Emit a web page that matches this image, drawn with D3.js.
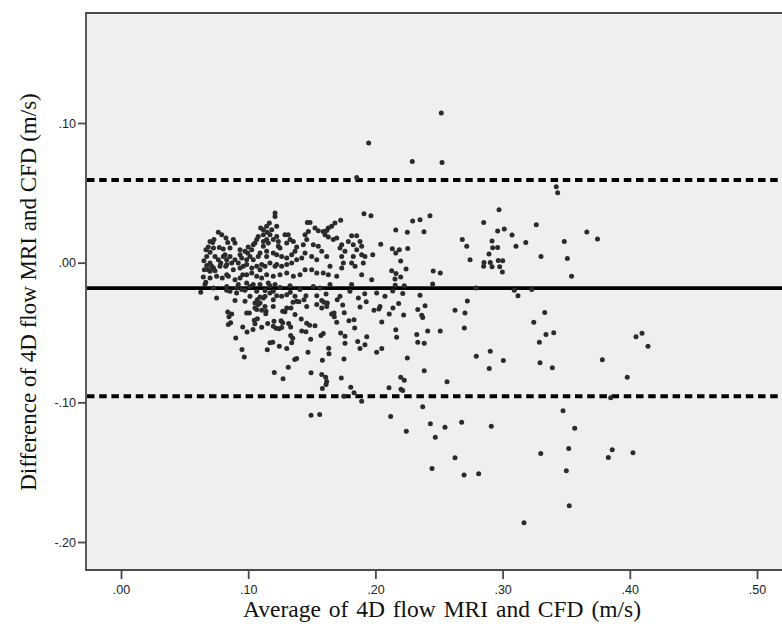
<!DOCTYPE html>
<html>
<head>
<meta charset="utf-8">
<script src="https://cdn.jsdelivr.net/npm/d3@7"></script>
<style>
  html, body { margin: 0; padding: 0; background: #ffffff; }
  svg { display: block; }
</style>
</head>
<body>
<svg id="chart" width="782" height="631"></svg>
<script>
// Bland–Altman agreement: 4D flow MRI vs CFD velocities (m/s)
// Each pair is [average of the two methods, difference between them]
const measurements = [
  [0.1947,0.0856],[0.2518,0.1071],[0.2290,0.0725],[0.2524,0.0717],[0.1853,0.0610],[0.3422,0.0544],[0.3433,0.0501],
  [0.2972,0.0379],[0.2851,0.0288],[0.2961,0.0227],[0.3013,0.0241],[0.3265,0.0272],[0.3074,0.0198],[0.3105,0.0117],[0.3182,0.0145],
  [0.2917,0.0155],[0.2922,0.0107],[0.2961,0.0109],[0.2893,0.0062],[0.2854,0.0002],[0.2851,-0.0026],[0.2903,0.0002],[0.2917,-0.0029],
  [0.2966,0.0016],[0.3001,0.0014],[0.2977,-0.0029],[0.2998,-0.0067],[0.2683,0.0165],[0.2718,0.0117],[0.2744,0.0021],[0.3302,0.0045],
  [0.3485,0.0152],[0.3509,0.0029],[0.3542,-0.0097],[0.3662,0.0220],[0.3746,0.0170],[0.2293,0.0298],[0.2351,0.0308],[0.2429,0.0336],
  [0.2160,0.0234],[0.2251,0.0217],[0.2382,0.0222],[0.2042,0.0131],[0.2133,0.0100],[0.2160,0.0069],[0.2188,0.0093],[0.2254,0.0102],
  [0.2199,0.0012],[0.2241,-0.0045],[0.2128,-0.0057],[0.2162,-0.0077],[0.2154,-0.0117],[0.2199,-0.0102],[0.2455,-0.0059],[0.2510,-0.0074],
  [0.2156,-0.0162],[0.2227,-0.0165],[0.2450,-0.0152],[0.2136,-0.0202],[0.2215,-0.0220],[0.2351,-0.0234],[0.3092,-0.0198],[0.3121,-0.0236],
  [0.2793,-0.0181],[0.3229,-0.0193],[0.2183,-0.0293],[0.2138,-0.0324],[0.2390,-0.0308],[0.2333,-0.0336],[0.2222,-0.0374],[0.2109,-0.0367],
  [0.2364,-0.0377],[0.2372,-0.0393],[0.2626,-0.0341],[0.2704,-0.0360],[0.2723,-0.0274],[0.2050,-0.0424],[0.3331,-0.0356],[0.3245,-0.0427],
  [0.2160,-0.0481],[0.2699,-0.0467],
  [0.2167,-0.0534],[0.2325,-0.0515],[0.2411,-0.0489],[0.2510,-0.0489],[0.2050,-0.0615],[0.2333,-0.0570],[0.2384,-0.0577],[0.2251,-0.0682],
  [0.2384,-0.0773],[0.2199,-0.0820],[0.2227,-0.0842],[0.2563,-0.0853],[0.2107,-0.0896],[0.2201,-0.0906],[0.2215,-0.0916],[0.2793,-0.0670],
  [0.2903,-0.0634],[0.2895,-0.0758],[0.3006,-0.0701],[0.3289,-0.0570],[0.3341,-0.0515],[0.3402,-0.0501],[0.3294,-0.0717],[0.3391,-0.0753],
  [0.3784,-0.0696],[0.4049,-0.0531],[0.4096,-0.0506],[0.4143,-0.0599],[0.3980,-0.0820],[0.3850,-0.0968],[0.2372,-0.1032],[0.2120,-0.1102],
  [0.2243,-0.1207],[0.2432,-0.1154],[0.2471,-0.1250],[0.2547,-0.1178],[0.2678,-0.1142],[0.2911,-0.1171],[0.2626,-0.1397],[0.2445,-0.1474],
  [0.2697,-0.1521],[0.2812,-0.1511],[0.3475,-0.1061],[0.3567,-0.1185],[0.3520,-0.1330],[0.3300,-0.1366],[0.3501,-0.1490],[0.3524,-0.1740],
  [0.3168,-0.1862],[0.3831,-0.1395],[0.3862,-0.1340],[0.4025,-0.1361],
  [0.0627,-0.0212],[0.0752,-0.0253],[0.0896,-0.0270],[0.0839,-0.0353],[0.0870,-0.0367],[0.0988,-0.0360],[0.1009,-0.0360],[0.0849,-0.0388],
  [0.0862,-0.0431],[0.0844,-0.0443],[0.0957,-0.0460],[0.0991,-0.0496],[0.0902,-0.0539],[0.1038,-0.0479],[0.1048,-0.0413],[0.1072,-0.0401],
  [0.1106,-0.0463],[0.1140,-0.0348],[0.1138,-0.0365],[0.1153,-0.0436],[0.1197,-0.0313],[0.1053,-0.0288],[0.1072,-0.0265],[0.1093,-0.0245],
  [0.1132,-0.0241],[0.1171,-0.0217],[0.1224,-0.0236],[0.1271,-0.0348],[0.1289,-0.0351],[0.1258,-0.0415],[0.1203,-0.0420],[0.1271,-0.0431],
  [0.1219,-0.0470],[0.1242,-0.0474],[0.1263,-0.0465],[0.1318,-0.0436],[0.1334,-0.0460],[0.1303,-0.0229],[0.1331,-0.0212],[0.1352,-0.0284],
  [0.1336,-0.0324],[0.1381,-0.0277],[0.1399,-0.0279],[0.1439,-0.0265],[0.1454,-0.0236],[0.1539,-0.0236],[0.1612,-0.0224],[0.1578,-0.0270],
  [0.1596,-0.0284],[0.1622,-0.0288],[0.1700,-0.0265],[0.1743,-0.0303],[0.1675,-0.0360],[0.1656,-0.0367],[0.1677,-0.0388],[0.1755,-0.0358],
  [0.1866,-0.0253],[0.1916,-0.0222],[0.1928,-0.0279],[0.1879,-0.0317],[0.1989,-0.0341],[0.2028,-0.0331],[0.1792,-0.0415],[0.1832,-0.0408],
  [0.1837,-0.0467],[0.1417,-0.0403],[0.1460,-0.0434],[0.1483,-0.0448],[0.1525,-0.0451],[0.1421,-0.0489],[0.1454,-0.0494],[0.1491,-0.0549],
  [0.1590,-0.0508],[0.1572,-0.0522],[0.1727,-0.0503],[0.1761,-0.0577],[0.1761,-0.0527],[0.1696,-0.0427],[0.1334,-0.0522],[0.1350,-0.0541],
  [0.1342,-0.0574],[0.1303,-0.0615],[0.1245,-0.0599],[0.1171,-0.0574],[0.1193,-0.0570],[0.1150,-0.0624],[0.1053,-0.0438],[0.0951,-0.0622],
  [0.0969,-0.0675],[0.1366,-0.0694],[0.1381,-0.0687],[0.1315,-0.0749],[0.1205,-0.0787],[0.1274,-0.0832],[0.1470,-0.0642],[0.1583,-0.0699],
  [0.1633,-0.0613],[0.1635,-0.0653],[0.1753,-0.0689],[0.1861,-0.0565],[0.1879,-0.0615],[0.1932,-0.0531],[0.1918,-0.0587],[0.2010,-0.0642],
  [0.1578,-0.0801],[0.1609,-0.0820],[0.1617,-0.0851],[0.1612,-0.0873],[0.1583,-0.0901],[0.1494,-0.0789],[0.1732,-0.0825],[0.1806,-0.0892],
  [0.1832,-0.0932],[0.1892,-0.0992],[0.1751,-0.0956],[0.1494,-0.1092],[0.1562,-0.1087],
  [0.0660,-0.0157],[0.1053,-0.0324],[0.1079,-0.0300],[0.1119,-0.0253],[0.1197,-0.0456],[0.1067,-0.0205],
  [0.0666,-0.0141],[0.0647,-0.0102],[0.0655,-0.0050],[0.0674,-0.0021],[0.0652,0.0014],[0.0674,0.0045],[0.0668,0.0093],[0.0686,0.0112],
  [0.0700,0.0074],[0.0721,0.0145],[0.0731,0.0165],[0.0765,0.0217],[0.0792,0.0200],[0.0773,0.0109],[0.0804,0.0098],[0.0825,0.0177],
  [0.0839,0.0145],[0.0857,0.0105],[0.0883,0.0165],[0.0896,0.0141],[0.0739,0.0045],[0.0765,0.0021],[0.0784,-0.0002],[0.0804,0.0045],
  [0.0831,0.0021],[0.0823,-0.0026],[0.0870,-0.0002],[0.0713,-0.0026],[0.0700,-0.0062],[0.0739,-0.0057],[0.0752,-0.0098],[0.0796,-0.0109],
  [0.0844,-0.0098],[0.0883,-0.0050],[0.0896,-0.0122],[0.0936,0.0057],[0.0949,0.0034],[0.0922,-0.0002],[0.0962,-0.0026],[0.0957,-0.0086],
  [0.0988,0.0021],[0.0996,0.0069],[0.1028,0.0093],[0.1040,0.0021],[0.1053,0.0141],[0.1079,0.0188],[0.1098,0.0248],[0.1119,0.0200],
  [0.1145,0.0260],[0.1166,0.0284],[0.1185,0.0236],[0.1211,0.0356],[0.1211,0.0331],[0.1224,0.0260],[0.1197,0.0165],[0.1158,0.0141],
  [0.1119,0.0117],[0.1093,0.0069],[0.1145,0.0045],[0.1197,0.0069],[0.1237,0.0117],[0.1067,-0.0026],[0.1093,-0.0050],[0.1132,-0.0026],
  [0.1171,-0.0002],[0.1211,-0.0026],[0.1028,-0.0074],[0.1067,-0.0098],[0.1106,-0.0109],[0.1145,-0.0086],[0.1197,-0.0098],[0.0988,-0.0145],
  [0.1040,-0.0157],[0.1093,-0.0157],[0.1158,-0.0145],[0.1211,-0.0157],[0.0909,-0.0181],[0.0949,-0.0193],[0.0975,-0.0198],[0.1132,-0.0200],
  [0.1197,-0.0205],[0.0831,-0.0198],[0.1093,-0.0288],[0.1132,-0.0313],[0.1067,-0.0336],[0.1197,-0.0265],[0.0975,-0.0277],
  [0.1119,0.0236],[0.1150,0.0217],[0.0700,0.0152],[0.0727,0.0105],[0.0936,0.0093],[0.0975,0.0081],[0.1000,0.0112],[0.1040,0.0129],
  [0.1067,0.0165],[0.1119,0.0152],[0.1145,0.0165],[0.1171,0.0200],[0.1224,0.0188],[0.1237,0.0152],[0.1250,0.0105],[0.1289,0.0200],
  [0.1315,0.0200],[0.1329,0.0165],[0.1303,0.0141],[0.1355,0.0152],[0.1381,0.0112],[0.1368,0.0081],[0.1342,0.0057],[0.1303,0.0034],
  [0.1263,0.0045],[0.1224,0.0057],[0.1145,0.0081],[0.1079,0.0045],[0.1014,0.0045],[0.0896,0.0021],[0.0857,0.0045],[0.0818,0.0057],
  [0.0700,-0.0002],[0.0686,-0.0050],[0.0727,-0.0038],[0.0778,-0.0026],[0.0831,-0.0014],[0.0936,-0.0038],[0.0988,-0.0014],[0.1028,-0.0038],
  [0.1106,-0.0014],[0.1224,-0.0014],[0.1263,-0.0026],[0.1303,-0.0014],[0.1342,-0.0002],[0.1381,0.0021],[0.1421,0.0034],[0.1447,0.0069],
  [0.1433,0.0129],[0.1460,0.0165],[0.1447,0.0200],[0.1473,0.0224],[0.1465,0.0288],[0.1486,0.0288],[0.1525,0.0248],[0.1551,0.0229],
  [0.1590,0.0224],[0.1617,0.0231],[0.1630,0.0248],[0.1656,0.0260],[0.1682,0.0284],[0.1727,0.0303],[0.1604,0.0200],[0.1630,0.0184],
  [0.1669,0.0165],[0.1696,0.0177],[0.1512,0.0129],[0.1551,0.0117],[0.1578,0.0081],[0.1499,0.0045],[0.1539,0.0021],[0.1617,0.0045],
  [0.1643,-0.0026],[0.1722,0.0105],[0.1735,0.0129],[0.1761,0.0081],[0.1735,0.0045],[0.1748,-0.0002],[0.1735,-0.0038],[0.1696,-0.0098],
  [0.1630,-0.0086],[0.1590,-0.0074],[0.1539,-0.0074],[0.1499,-0.0050],[0.1447,-0.0050],[0.1407,-0.0086],[0.1355,-0.0098],[0.1303,-0.0074],
  [0.1250,-0.0086],[0.0988,-0.0086],[0.0936,-0.0109],[0.0831,-0.0086],[0.0700,-0.0109],[0.1813,0.0193],[0.1853,0.0193],[0.1787,0.0152],
  [0.1826,0.0129],[0.1879,0.0152],[0.1892,0.0117],[0.1853,0.0093],[0.1892,0.0057],[0.1918,0.0045],[0.1826,0.0045],[0.1813,-0.0002],
  [0.1840,-0.0026],[0.1905,-0.0002],[0.1892,-0.0086],[0.1813,-0.0157],[0.1910,0.0351],[0.1965,0.0336],[0.1979,0.0057],[0.1971,-0.0122],
  [0.1722,-0.0241],[0.1368,-0.0241],[0.1263,-0.0241],[0.1014,-0.0241],[0.0909,-0.0217],[0.0857,-0.0205],[0.0727,-0.0181],[0.0831,-0.0170],
  [0.0922,-0.0157],[0.1014,-0.0170],[0.1171,-0.0165],[0.1250,-0.0177],[0.1329,-0.0165],[0.1407,-0.0193],[0.1512,-0.0170],[0.1564,-0.0181],
  [0.1643,-0.0157],[0.1800,-0.0205],[0.2010,-0.0217],[0.1106,-0.0341],[0.1303,-0.0324],[0.1368,-0.0372],[0.1460,-0.0313],[0.1539,-0.0300],
  [0.1578,-0.0324],[0.1617,-0.0313],[0.2036,-0.0313],[0.2075,-0.0241]
];

// Mean difference and 95% limits of agreement
const meanDiff = -0.0182;
const upperLimit = 0.0592;
const lowerLimit = -0.0956;

const xTicks = [0, 0.1, 0.2, 0.3, 0.4, 0.5];
const yTicks = [-0.2, -0.1, 0, 0.1];

const xTitle = "Average of 4D flow MRI and CFD (m/s)";
const yTitle = "Difference of 4D flow MRI and CFD (m/s)";

// Layout
const plot = { left: 86, top: 13, right: 800, bottom: 570 };

const x = d3.scaleLinear().domain([0, 0.5]).range([121, 757]);
const y = d3.scaleLinear().domain([-0.2, 0.1]).range([542, 123]);

// SPSS-style labels: no leading zero, plain hyphen for negatives
const fmt = d => d3.format(".2f")(d).replace("\u2212", "-").replace("0.", ".");

const svg = d3.select("#chart");

// plot background
svg.append("rect")
  .attr("x", plot.left).attr("y", plot.top)
  .attr("width", plot.right - plot.left)
  .attr("height", plot.bottom - plot.top)
  .attr("fill", "#efefef");

// reference lines
const refLines = [
  { v: upperLimit, dash: "7.5,4.7" },
  { v: meanDiff, dash: null },
  { v: lowerLimit, dash: "7.5,4.7" }
];
svg.append("g").selectAll("line").data(refLines).join("line")
  .attr("x1", plot.left + 1).attr("x2", plot.right)
  .attr("y1", d => y(d.v)).attr("y2", d => y(d.v))
  .attr("stroke", "#000")
  .attr("stroke-width", d => d.dash ? 4 : 3.6)
  .attr("stroke-dasharray", d => d.dash);

// points
svg.append("g").selectAll("circle").data(measurements).join("circle")
  .attr("cx", d => x(d[0]))
  .attr("cy", d => y(d[1]))
  .attr("r", 2.5)
  .attr("fill", "#2b2b2b");

// frame: top, left and bottom edges
const frame = svg.append("g").attr("stroke", "#4a4a4a").attr("stroke-width", 1.8).attr("fill", "none");
frame.append("path").attr("d", `M${plot.right},${plot.top}H${plot.left}V${plot.bottom}H${plot.right}`);

// axes
const yAxis = svg.append("g")
  .attr("transform", `translate(${plot.left},0)`)
  .call(d3.axisLeft(y).tickValues(yTicks).tickFormat(fmt).tickSize(8).tickPadding(2));
const xAxis = svg.append("g")
  .attr("transform", `translate(0,${plot.bottom})`)
  .call(d3.axisBottom(x).tickValues(xTicks).tickFormat(fmt).tickSize(9).tickPadding(6));

[xAxis, yAxis].forEach(g => {
  g.select(".domain").remove();
  g.selectAll(".tick line").attr("stroke", "#4a4a4a").attr("stroke-width", 1.8);
  g.selectAll(".tick text")
    .attr("fill", "#222")
    .style("font-family", "'Liberation Sans', Arial, sans-serif")
    .style("font-size", "12.5px");
});

// axis titles
svg.append("text")
  .attr("x", 442).attr("y", 617)
  .attr("text-anchor", "middle")
  .style("font-family", "'Liberation Serif', 'Times New Roman', serif")
  .style("font-size", "23.5px")
  .style("word-spacing", "2px")
  .attr("fill", "#111")
  .text(xTitle);

svg.append("text")
  .attr("transform", "translate(36,292) rotate(-90)")
  .attr("text-anchor", "middle")
  .style("font-family", "'Liberation Serif', 'Times New Roman', serif")
  .style("font-size", "23px")
  .attr("fill", "#111")
  .text(yTitle);
</script>
</body>
</html>
